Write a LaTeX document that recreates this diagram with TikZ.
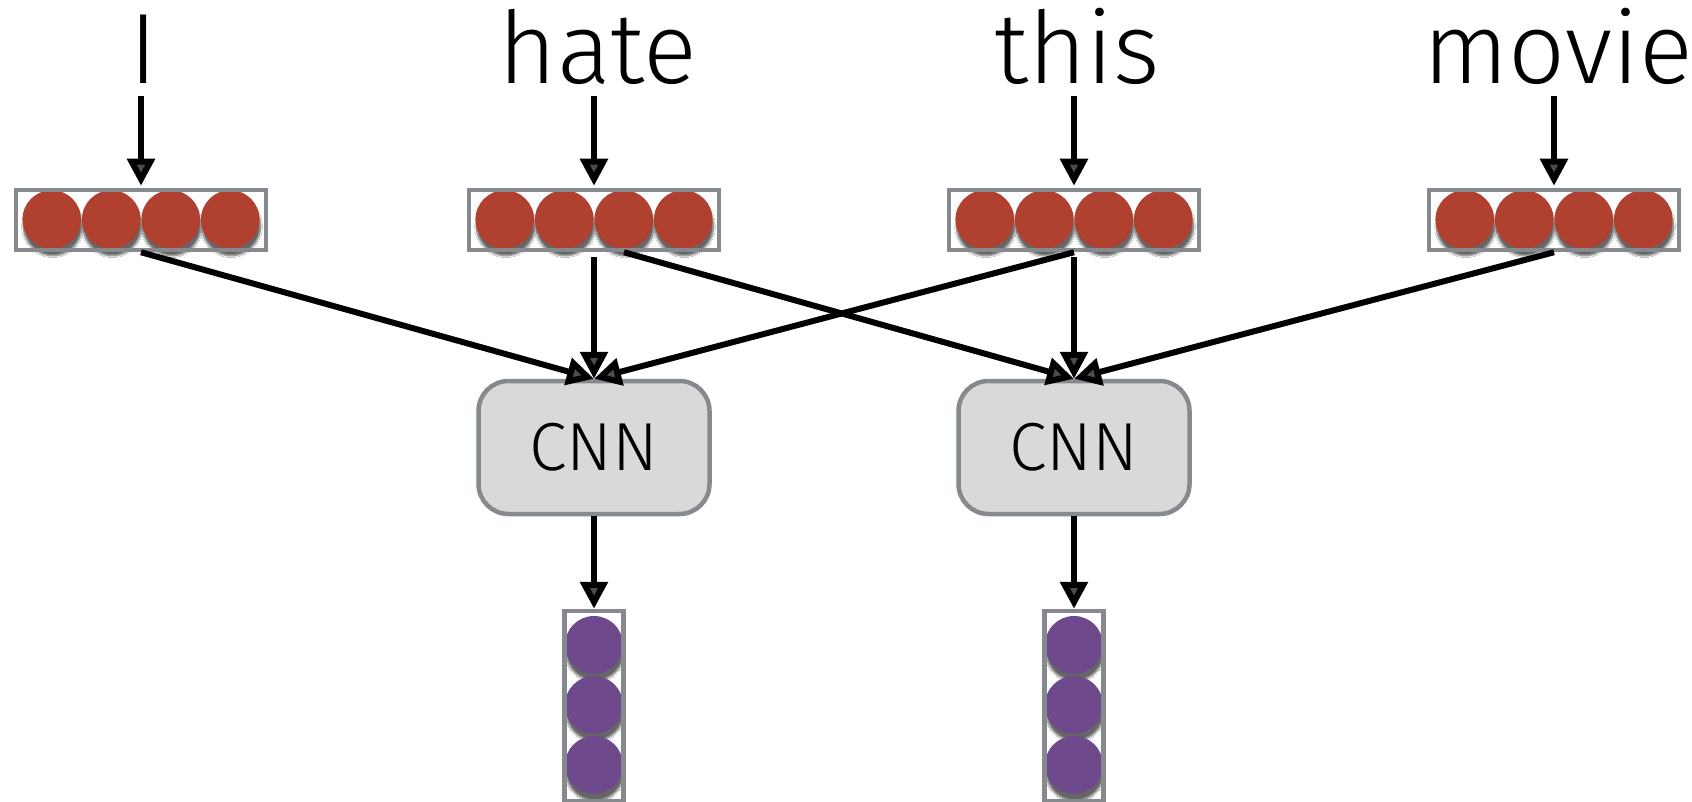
\documentclass[tikz,border=0pt]{standalone}
\usepackage{fontspec}
\newfontfamily\lightfont{Fira Sans Light}
\usetikzlibrary{arrows.meta,shadows.blur}
\definecolor{redc}{HTML}{B0402F}
\definecolor{purc}{HTML}{6E4A8D}
\definecolor{boxgrey}{HTML}{868A8E}
\definecolor{cnnfill}{HTML}{D9D9D9}
\begin{document}
\begin{tikzpicture}[x=1pt,y=-1pt,
  vecbox/.style={draw=boxgrey, line width=4.5pt, minimum width=250pt, minimum height=60pt, inner sep=0pt},
  colbox/.style={draw=boxgrey, line width=4.5pt, minimum width=59pt, minimum height=190pt, inner sep=0pt},
  cnnbox/.style={draw=boxgrey, fill=cnnfill, line width=4.5pt, rounded corners=30pt, minimum width=231pt, minimum height=133pt, inner sep=0pt, font=\lightfont\fontsize{68}{74}\selectfont},
  word/.style={anchor=base, inner sep=0pt, font=\lightfont\fontsize{100}{110}\selectfont},
  arr/.style={line width=6pt, -{Triangle[length=27pt,width=27pt]}},
  unit/.style={blur shadow={shadow xshift=1pt, shadow yshift=-7pt, shadow blur steps=8, shadow opacity=60}}
]
\fill[white] (0,0) rectangle (1692,802);
\useasboundingbox (0,0) rectangle (1692,802);

% red word vectors
\foreach \cx in {141,594,1074,1554}
  \foreach \d in {-89.25,-29.75,29.75,89.25}
    \fill[redc, unit] (\cx+\d,219.5) circle (29.3pt);
\node[vecbox] (v1) at (141,220) {};
\node[vecbox] (v2) at (594,220) {};
\node[vecbox] (v3) at (1074,220) {};
\node[vecbox] (v4) at (1554,220) {};

% purple output vectors
\foreach \cx in {594,1074}
  \foreach \cy in {645,705,765}
    \fill[purc, unit] (\cx,\cy) circle (29pt);
\node[colbox] (p1) at (594,706) {};
\node[colbox] (p2) at (1074,706) {};

% CNN boxes
\node[cnnbox] (c1) at (594,447.5) {CNN};
\node[cnnbox] (c2) at (1074,447.5) {CNN};

% words
\node[word] (w1) at (144,84) {I};
\node[word] (w2) at (598,84) {hate};
\node[word] (w3) at (1077,84) {this};
\node[word] (w4) at (1558,84) {movie};

\coordinate (s1) at (141,96);
\coordinate (s2) at (594,96);
\coordinate (s3) at (1074,96);
\coordinate (s4) at (1554,96);

\draw[arr, shorten >=2pt] (s1) -- (v1.north);
\draw[arr, shorten >=2pt] (s2) -- (v2.north);
\draw[arr, shorten >=2pt] (s3) -- (v3.north);
\draw[arr, shorten >=2pt] (s4) -- (v4.north);

\draw[arr] (v1.south) -- (c1.north);
\draw[arr] ([yshift=-5pt]v2.south) -- (c1.north);
\draw[arr] (v3.south) -- (c1.north);
\draw[arr] ([xshift=30pt]v2.south) -- (c2.north);
\draw[arr] ([yshift=-5pt]v3.south) -- (c2.north);
\draw[arr] (v4.south) -- (c2.north);

\draw[arr] (c1.south) -- (p1.north);
\draw[arr] (c2.south) -- (p2.north);
\end{tikzpicture}
\end{document}
